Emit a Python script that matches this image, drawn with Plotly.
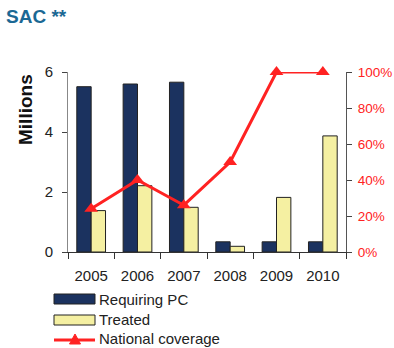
import plotly.graph_objects as go

# Data
years = ["2005", "2006", "2007", "2008", "2009", "2010"]
requiring_pc = [5.51, 5.60, 5.66, 0.34, 0.34, 0.34]      # millions
treated = [1.38, 2.21, 1.49, 0.19, 1.82, 3.87]           # millions
coverage = [24, 40, 26, 50, 100, 100]                    # percent

left_ticks = [0, 2, 4, 6]
right_ticks = [0, 20, 40, 60, 80, 100]
right_labels = [f"{v}%" for v in right_ticks]

NAVY = "#1b325f"
PALE = "#f5f0a2"
RED = "#ff2222"
TITLE_BLUE = "#1b6894"
FONT = "Liberation Sans"

W, H = 394, 348
ML, MR, MT, MB = 68, 48, 72, 96
PW, PH = W - ML - MR, H - MT - MB


def px(x):
    return (x - ML) / PW


def py(y):
    return (H - MB - y) / PH


fig = go.Figure()
fig.add_trace(go.Bar(
    x=years, y=requiring_pc, name="Requiring PC",
    marker=dict(color=NAVY, line=dict(color="#222222", width=1)),
))
fig.add_trace(go.Bar(
    x=years, y=treated, name="Treated",
    marker=dict(color=PALE, line=dict(color="#222222", width=1)),
))
fig.add_trace(go.Scatter(
    x=years, y=coverage, name="National coverage", yaxis="y2",
    mode="lines+markers", cliponaxis=False,
    line=dict(color=RED, width=3),
    marker=dict(symbol="triangle-up", size=12, color=RED),
))

# Hand-drawn legend below the plot
shapes = [
    dict(type="rect", xref="paper", yref="paper",
         x0=px(54), x1=px(95), y0=py(304), y1=py(294),
         fillcolor=NAVY, line=dict(color="#222222", width=1)),
    dict(type="rect", xref="paper", yref="paper",
         x0=px(54), x1=px(95), y0=py(325), y1=py(315),
         fillcolor=PALE, line=dict(color="#222222", width=1)),
    dict(type="line", xref="paper", yref="paper",
         x0=px(54), x1=px(95), y0=py(340), y1=py(340),
         line=dict(color=RED, width=3)),
    dict(type="path", xref="paper", yref="paper",
         path=(f"M {px(69.5)} {py(344)} L {px(80.5)} {py(344)} "
               f"L {px(75)} {py(334)} Z"),
         fillcolor=RED, line=dict(color=RED, width=1)),
]

annotations = [
    dict(text="<b>SAC **</b>", xref="paper", yref="paper",
         x=px(4), y=py(16), xanchor="left", yanchor="middle",
         showarrow=False, font=dict(family=FONT, size=19, color=TITLE_BLUE)),
    dict(text="<b>Millions</b>", xref="paper", yref="paper",
         x=px(25), y=py(110), xanchor="center", yanchor="middle",
         textangle=-90, showarrow=False,
         font=dict(family=FONT, size=19, color="#111111")),
]
for label, ycen in [("Requiring PC", 299), ("Treated", 319.5), ("National coverage", 338.5)]:
    annotations.append(dict(
        text=label, xref="paper", yref="paper", x=px(97), y=py(ycen),
        xanchor="left", yanchor="middle", showarrow=False,
        font=dict(family=FONT, size=15, color="#222222")))

fig.update_layout(
    width=W, height=H,
    margin=dict(l=ML, r=MR, t=MT, b=MB, pad=0, autoexpand=False),
    paper_bgcolor="white", plot_bgcolor="white",
    barmode="group", bargap=0.38, bargroupgap=0,
    showlegend=False,
    font=dict(family=FONT, size=15, color="#222222"),
    xaxis=dict(
        type="category", showline=True, linecolor="#333333", linewidth=1,
        ticks="outside", tickson="boundaries", ticklen=6, tickcolor="#333333",
        showgrid=False, ticklabelstandoff=10, automargin=False,
        tickfont=dict(family=FONT, size=15, color="#222222"),
    ),
    yaxis=dict(
        range=[0, 6], tickvals=left_ticks, showline=True, linecolor="#888888",
        linewidth=1, ticks="outside", ticklen=5, tickcolor="#444444",
        showgrid=False, zeroline=False, ticklabelstandoff=6, automargin=False,
        tickfont=dict(family=FONT, size=15, color="#222222"),
    ),
    yaxis2=dict(
        range=[0, 100], tickvals=right_ticks, ticktext=right_labels,
        overlaying="y", side="right", showline=True, linecolor="#555555",
        linewidth=1, ticks="outside", ticklen=5, tickcolor="#444444",
        showgrid=False, zeroline=False, ticklabelstandoff=3, automargin=False,
        tickfont=dict(family=FONT, size=13.5, color=RED),
    ),
    shapes=shapes,
    annotations=annotations,
)

fig.write_html("out.html")
